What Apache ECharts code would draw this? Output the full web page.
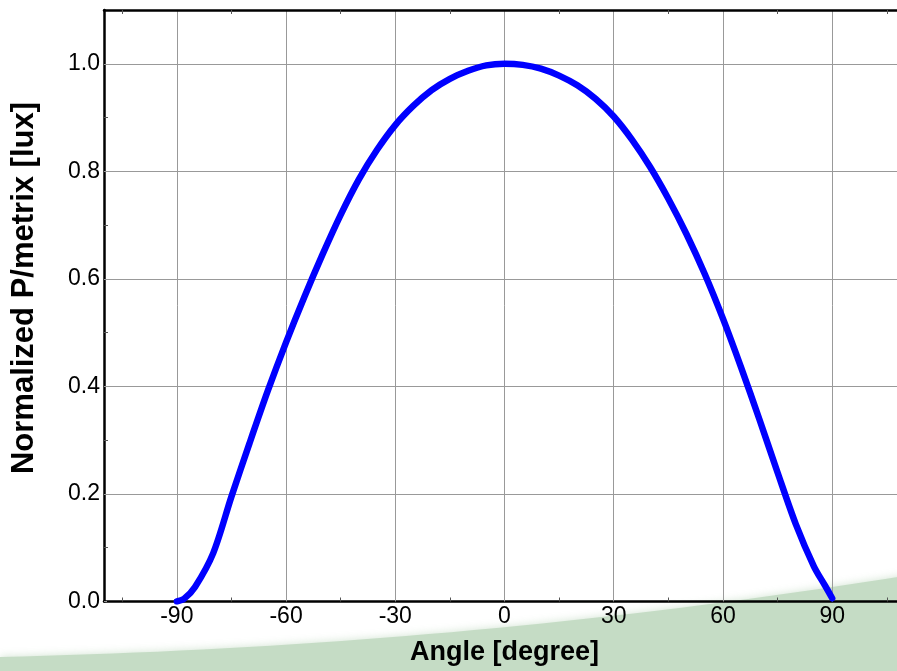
<!DOCTYPE html>
<html>
<head>
<meta charset="utf-8">
<script src="https://cdn.jsdelivr.net/npm/echarts@6/dist/echarts.min.js"></script>
<style>html,body{margin:0;padding:0;background:#fff;overflow:hidden;width:897px;height:671px}#c{width:910px;height:671px}</style>
</head>
<body>
<div id="c"></div>
<script>
const angles = [-90,-88,-85,-80,-75,-70,-65,-60,-55,-50,-45,-40,-35,-30,-25,-20,-15,-10,-5,0,5,10,15,20,25,30,35,40,45,50,55,60,65,70,75,80,85,88,90];
const values = [0.0,0.005,0.027,0.090,0.195,0.295,0.392,0.482,0.566,0.645,0.719,0.785,0.840,0.886,0.922,0.951,0.972,0.987,0.997,1.0,0.998,0.991,0.978,0.960,0.935,0.902,0.859,0.808,0.749,0.683,0.609,0.526,0.435,0.339,0.240,0.144,0.065,0.030,0.006];
const xTicks = [-90,-60,-30,0,30,60,90];
const xMinorTicks = [-105,-75,-45,-15,15,45,75,105];
const yTicks = [0,0.2,0.4,0.6,0.8,1.0];
const yMinorTicks = [0.1,0.3,0.5,0.7,0.9];
const xTitle = 'Angle [degree]';
const yTitle = 'Normalized P/metrix [lux]';

const FONT = 'Liberation Sans, Arial, sans-serif';
const chart = echarts.init(document.getElementById('c'), null, {renderer: 'canvas'});
const xMin = -110, xMax = 110, yMin = 0, yMax = 1.1;

// decorative background swoosh (page decoration, not data)
function swoosh() {
  const p0 = [0, 657], p1 = [300, 650], p2 = [600, 625], p3 = [910, 575];
  const pts = [];
  for (let i = 0; i <= 40; i++) {
    const t = i / 40, u = 1 - t;
    pts.push([
      u*u*u*p0[0] + 3*u*u*t*p1[0] + 3*u*t*t*p2[0] + t*t*t*p3[0],
      u*u*u*p0[1] + 3*u*u*t*p1[1] + 3*u*t*t*p2[1] + t*t*t*p3[1]
    ]);
  }
  pts.push([910, 671], [0, 671]);
  return pts;
}

const option = {
  backgroundColor: '#ffffff',
  animation: false,
  grid: {left: 104, top: 10, width: 801, height: 592, containLabel: false},
  graphic: [
    {
      type: 'polygon', z: -10, silent: true,
      shape: {points: swoosh()},
      style: {fill: '#c5dcc5', shadowBlur: 8, shadowColor: 'rgba(197,220,197,0.8)'}
    },
    {
      type: 'text', z: 10, x: 24, y: 288, rotation: Math.PI / 2,
      style: {text: yTitle, font: 'bold 31px ' + FONT, fill: '#000', align: 'center', verticalAlign: 'middle'}
    }
  ],
  xAxis: [
    {
      type: 'value', min: xMin, max: xMax, position: 'bottom',
      axisLine: {show: true, onZero: false, lineStyle: {color: '#000', width: 2.5}},
      axisTick: {show: true, inside: true, length: 3, customValues: xTicks, lineStyle: {color: '#999'}},
      axisLabel: {show: true, customValues: xTicks, margin: 4, fontSize: 23, color: '#000', fontFamily: FONT},
      splitLine: {show: true, lineStyle: {color: '#999', width: 1}},
      name: xTitle, nameLocation: 'middle', nameGap: 51,
      nameTextStyle: {fontSize: 27, fontWeight: 'bold', color: '#000', fontFamily: FONT, verticalAlign: 'middle'}
    },
    {
      type: 'value', min: xMin, max: xMax, position: 'bottom',
      axisLine: {show: false, onZero: false},
      axisTick: {show: true, inside: true, length: 4, customValues: xMinorTicks, lineStyle: {color: '#555'}},
      axisLabel: {show: false}, splitLine: {show: false}
    },
    {
      type: 'value', min: xMin, max: xMax, position: 'top',
      axisLine: {show: true, onZero: false, lineStyle: {color: '#000', width: 2.5}},
      axisTick: {show: true, inside: true, length: 4, customValues: xMinorTicks, lineStyle: {color: '#555'}},
      axisLabel: {show: false}, splitLine: {show: false}
    }
  ],
  yAxis: [
    {
      type: 'value', min: yMin, max: yMax, position: 'left',
      axisLine: {show: true, onZero: false, lineStyle: {color: '#000', width: 2.5}},
      axisTick: {show: true, inside: true, length: 3, customValues: yTicks, lineStyle: {color: '#999'}},
      axisLabel: {show: true, customValues: yTicks, margin: 4, fontSize: 23, color: '#000', fontFamily: FONT,
        formatter: v => Number(v).toFixed(1)},
      splitLine: {show: true, lineStyle: {color: '#999', width: 1}}
    },
    {
      type: 'value', min: yMin, max: yMax, position: 'left',
      axisLine: {show: false, onZero: false},
      axisTick: {show: true, inside: true, length: 4, customValues: yMinorTicks, lineStyle: {color: '#555'}},
      axisLabel: {show: false}, splitLine: {show: false}
    }
  ],
  series: [{
    type: 'line', xAxisIndex: 0, yAxisIndex: 0,
    data: angles.map((a, i) => [a, values[i]]),
    smooth: 0.3, symbol: 'none', z: 5,
    lineStyle: {color: '#0000ff', width: 6.5, cap: 'round', join: 'round'}
  }]
};
chart.setOption(option);
</script>
</body>
</html>
